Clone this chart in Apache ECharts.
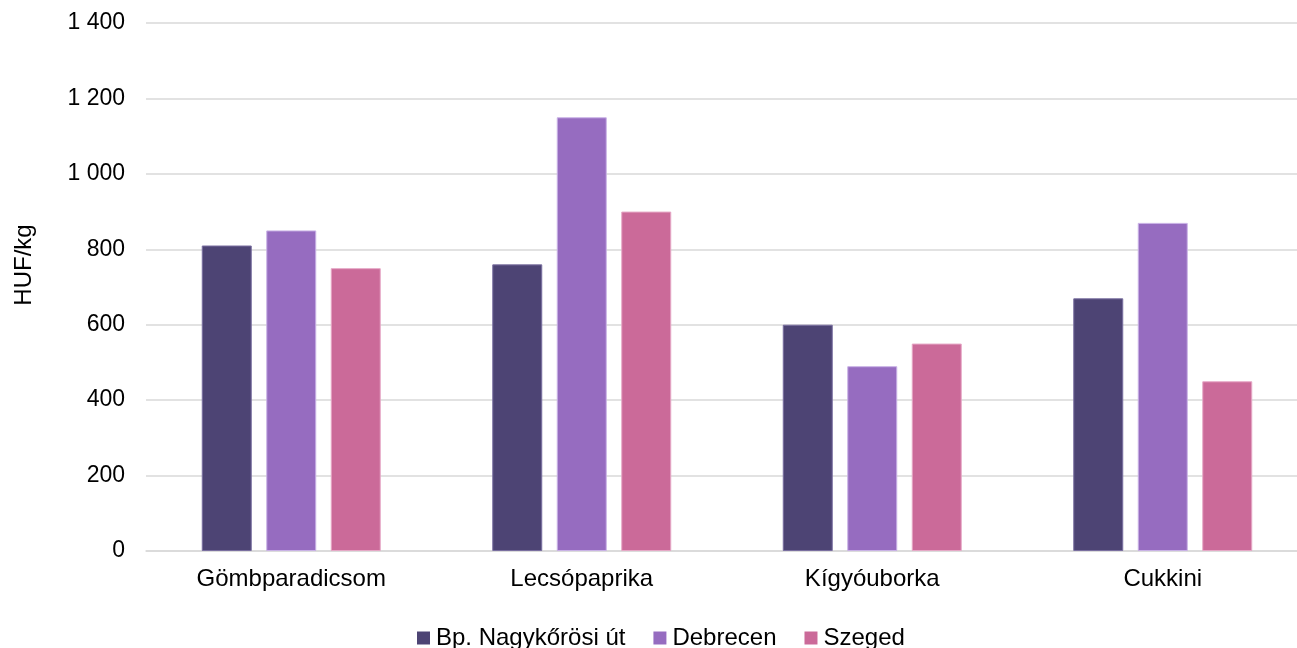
<!DOCTYPE html>
<html>
<head>
<meta charset="utf-8">
<script src="https://cdn.jsdelivr.net/npm/echarts@6/dist/echarts.min.js"></script>
<style>html,body{margin:0;padding:0;background:#fff;overflow:hidden;width:1297px;height:648px;}#c{width:1308px;height:648px;}</style>
</head>
<body>
<div id="c"></div>
<script>
var categories = ['Gömbparadicsom', 'Lecsópaprika', 'Kígyóuborka', 'Cukkini'];
var seriesNames = ['Bp. Nagykőrösi út', 'Debrecen', 'Szeged'];
var budapest = [810, 760, 600, 670];
var debrecen = [850, 1150, 490, 870];
var szeged = [750, 900, 550, 450];
var yTicks = [0, 200, 400, 600, 800, 1000, 1200, 1400];

var colors = ['#4d4474', '#966cc0', '#cb6a99'];
var borders = ['#7a6fa0', '#c9b2e6', '#e6a8c6'];
var font = 'Liberation Sans, Arial, sans-serif';

function fmt(v) {
  var s = String(v);
  return s.replace(/\B(?=(\d{3})+(?!\d))/g, ' ');
}

var chart = echarts.init(document.getElementById('c'), null, {renderer: 'canvas'});
var data = [budapest, debrecen, szeged];
chart.setOption({
  animation: false,
  backgroundColor: '#fff',
  textStyle: {fontFamily: font},
  grid: {left: 146, right: 0, top: 23, bottom: 97, containLabel: false},
  legend: {
    top: 621,
    left: 412,
    itemWidth: 13,
    itemHeight: 13,
    itemGap: 28,
    icon: 'rect',
    itemStyle: {borderWidth: 0},
    textStyle: {fontSize: 24, color: '#000', fontFamily: font, padding: [0, 0, 0, 1]},
    data: seriesNames
  },
  xAxis: {
    type: 'category',
    data: categories,
    axisTick: {show: false},
    axisLine: {lineStyle: {color: '#d9d9d9', width: 1.5}},
    axisLabel: {fontSize: 24, color: '#000', margin: 16, fontFamily: font}
  },
  yAxis: {
    type: 'value',
    min: yTicks[0],
    max: yTicks[yTicks.length - 1],
    interval: 200,
    name: 'HUF/kg',
    nameLocation: 'middle',
    nameGap: 110,
    nameTextStyle: {fontSize: 24, color: '#000', fontFamily: font, padding: [0, 0, 0, 44]},
    axisLine: {show: false},
    axisTick: {show: false},
    splitLine: {lineStyle: {color: '#d9d9d9', width: 1.5}},
    axisLabel: {fontSize: 23, color: '#000', margin: 21, fontFamily: font, formatter: function (v) { return fmt(v); }}
  },
  series: seriesNames.map(function (n, i) {
    return {
      name: n,
      type: 'bar',
      data: data[i],
      barWidth: 50,
      barGap: '29%',
      itemStyle: {color: colors[i], borderColor: borders[i], borderWidth: 1}
    };
  })
});
</script>
</body>
</html>
